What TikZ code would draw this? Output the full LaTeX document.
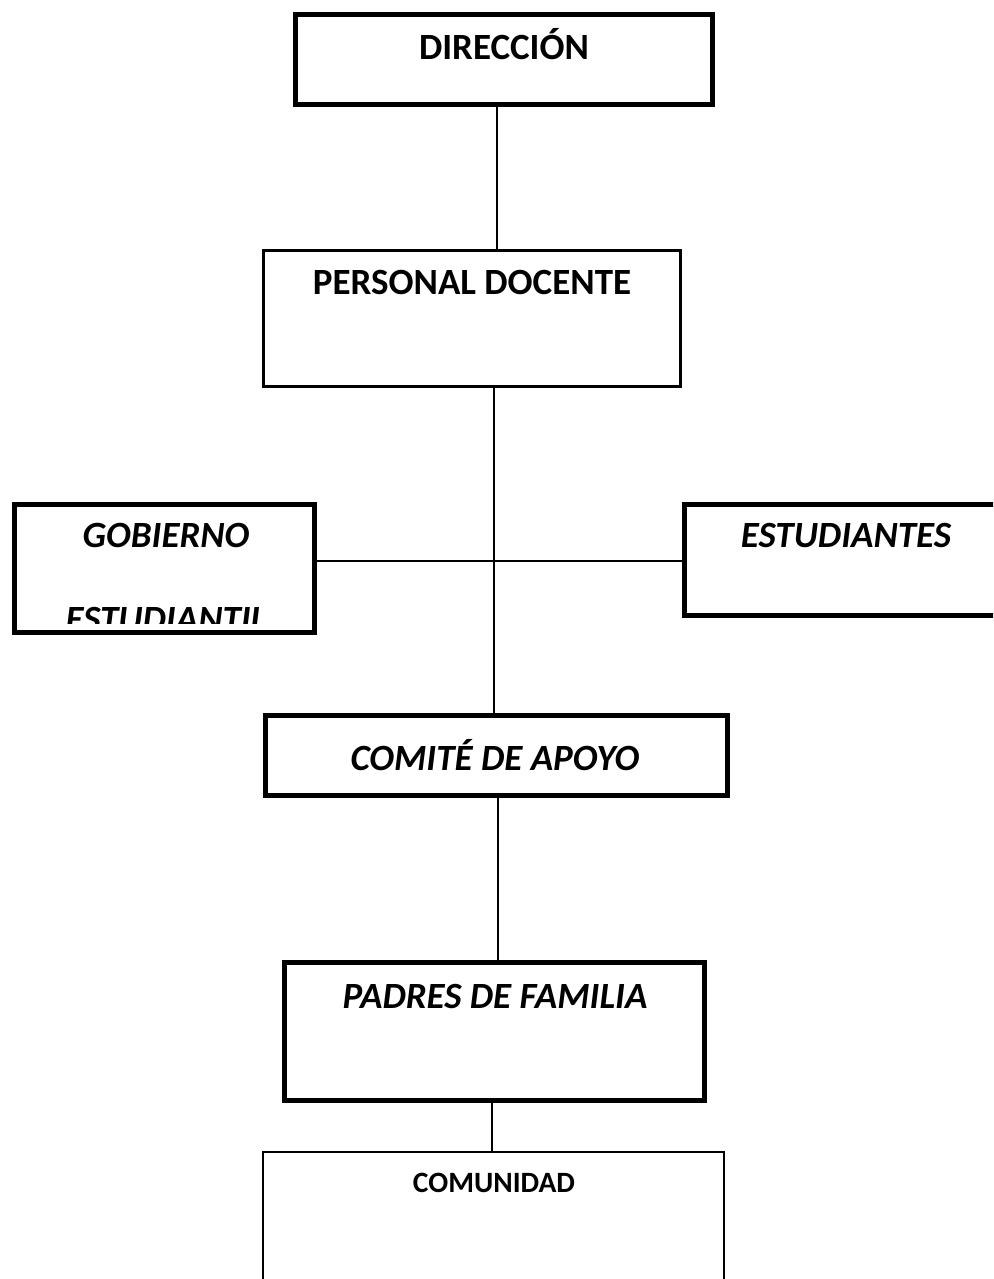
\documentclass[tikz,border=0pt]{standalone}
\usepackage{fontspec}
\setmainfont{Carlito}
\begin{document}
\begin{tikzpicture}[x=1pt,y=-1pt,
  box/.style={draw=black,rectangle,inner sep=0pt,fill=none},
  thickbox/.style={box,line width=5pt},
  midbox/.style={box,line width=3pt},
  thinbox/.style={box,line width=2pt},
  conn/.style={draw=black,line width=1.8pt},
  lbl/.style={anchor=base,inner sep=0pt,font=\fontsize{37}{44}\selectfont\bfseries},
  ilbl/.style={lbl,font=\fontsize{37}{44}\selectfont\bfseries\itshape},
  slbl/.style={anchor=base,inner sep=0pt,font=\fontsize{29.5}{35}\selectfont\bfseries}]
\clip (0,0) rectangle (993,1279);
\fill[white] (0,0) rectangle (993,1279);
% boxes
\node[thickbox,minimum width=417pt,minimum height=90pt] (dir) at (504,59.5) {};
\node[midbox,minimum width=417pt,minimum height=136pt] (pd) at (472,318.5) {};
\node[thickbox,minimum width=300pt,minimum height=128pt] (gob) at (164.5,568.5) {};
\node[thickbox,minimum width=325.5pt,minimum height=111pt] (est) at (847.25,560) {};
\node[thickbox,minimum width=462pt,minimum height=80pt] (com) at (496.5,755.5) {};
\node[thickbox,minimum width=420pt,minimum height=138pt] (pad) at (494.5,1031.5) {};
\node[thinbox,minimum width=461pt,minimum height=148pt] (comu) at (493.5,1226) {};
% texts
\node[lbl] (tdir) at (504,60) {DIRECCIÓN};
\node[lbl] (tpd) at (472,294) {PERSONAL DOCENTE};
\node[ilbl] (tgob) at (166,547) {GOBIERNO};
\begin{scope}
\clip (15,505) rectangle (314,623);
\node[ilbl] (tgob2) at (166,631) {ESTUDIANTIL};
\end{scope}
\node[ilbl] (test) at (846,547) {ESTUDIANTES};
\node[ilbl] (tcom) at (495,770) {COMITÉ DE APOYO};
\node[ilbl] (tpad) at (495,1008) {PADRES DE FAMILIA};
\node[slbl] (tcomu) at (494,1192) {COMUNIDAD};
% connector guides
\coordinate (x1) at (497,0);
\coordinate (x2) at (494,0);
\coordinate (x3) at (498,0);
\coordinate (x4) at (492,0);
\coordinate (hy) at (0,561);
\draw[conn] (dir.south -| x1) -- (pd.north -| x1);
\draw[conn] (pd.south -| x2) -- (com.north -| x2);
\draw[conn] (gob.east |- hy) -- (est.west |- hy);
\draw[conn] (com.south -| x3) -- (pad.north -| x3);
\draw[conn] (pad.south -| x4) -- (comu.north -| x4);
\end{tikzpicture}
\end{document}
